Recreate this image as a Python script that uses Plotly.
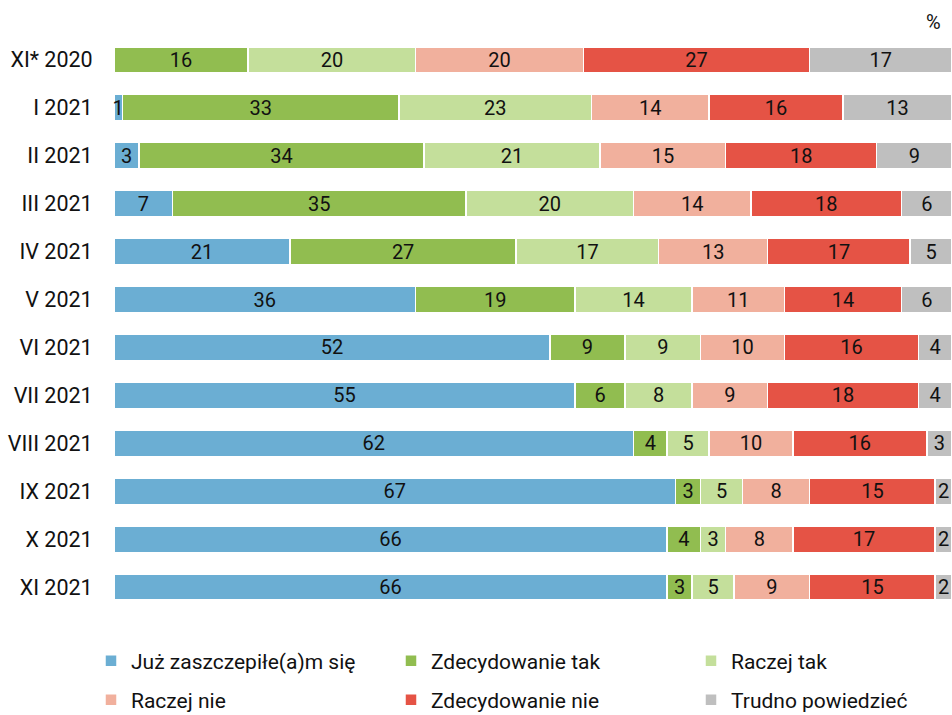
import plotly.graph_objects as go

categories = ["XI* 2020", "I 2021", "II 2021", "III 2021", "IV 2021", "V 2021",
              "VI 2021", "VII 2021", "VIII 2021", "IX 2021", "X 2021", "XI 2021"]

series_names = ["Już zaszczepiłe(a)m się", "Zdecydowanie tak", "Raczej tak",
                "Raczej nie", "Zdecydowanie nie", "Trudno powiedzieć"]

vaccinated = [None, 1, 3, 7, 21, 36, 52, 55, 62, 67, 66, 66]
definitely_yes = [16, 33, 34, 35, 27, 19, 9, 6, 4, 3, 4, 3]
rather_yes = [20, 23, 21, 20, 17, 14, 9, 8, 5, 5, 3, 5]
rather_no = [20, 14, 15, 14, 13, 11, 10, 9, 10, 8, 8, 9]
definitely_no = [27, 16, 18, 18, 17, 14, 16, 18, 16, 15, 17, 15]
hard_to_say = [17, 13, 9, 6, 5, 6, 4, 4, 3, 2, 2, 2]

colors = ["#6baed3", "#91bd50", "#c4df9b", "#f1b09d", "#e55345", "#bfbfbf"]

series = [vaccinated, definitely_yes, rather_yes, rather_no, definitely_no, hard_to_say]

FONT = "Roboto"
TXT = "#111111"

fig = go.Figure()
for i, (name, vals, col) in enumerate(zip(series_names, series, colors)):
    fig.add_trace(go.Bar(
        y=categories, x=vals, name=name, orientation="h",
        marker=dict(color=col, line=dict(color="white", width=1.5)),
        text=["" if v is None else str(v) for v in vals],
        textposition="inside", insidetextanchor="middle",
        constraintext="none", textangle=0,
        textfont=dict(family=FONT, size=20, color=TXT),
        cliponaxis=False,
        hoverinfo="skip",
        legend="legend" if i < 3 else "legend2",
    ))

PLOT_W = 952 - 114
PLOT_H = 611 - 36


def px_to_paper_x(px):
    return (px - 114) / PLOT_W


def px_to_paper_y(py):
    return (611 - py) / PLOT_H


legend_common = dict(orientation="h", xanchor="left", yanchor="middle",
                     entrywidth=255, entrywidthmode="pixels", itemwidth=30,
                     font=dict(family=FONT, size=21, color=TXT), traceorder="normal",
                     bgcolor="rgba(0,0,0,0)")

fig.update_layout(
    width=952, height=715,
    barmode="stack", bargap=0.45,
    margin=dict(l=114, r=0, t=36, b=104, autoexpand=False),
    paper_bgcolor="white", plot_bgcolor="white",
    font=dict(family=FONT, size=20, color=TXT),
    xaxis=dict(range=[0, 100], visible=False, fixedrange=True),
    yaxis=dict(autorange="reversed", showgrid=False, showline=False, automargin=False,
               ticks="outside", ticklen=16, tickcolor="rgba(0,0,0,0)",
               tickfont=dict(family=FONT, size=21.5, color=TXT)),
    legend=dict(x=px_to_paper_x(91), y=px_to_paper_y(661), **legend_common),
    legend2=dict(x=px_to_paper_x(91), y=px_to_paper_y(700), **legend_common),
    annotations=[dict(text="%", x=px_to_paper_x(943), xref="paper", xanchor="right",
                      y=px_to_paper_y(22), yref="paper", yanchor="middle",
                      showarrow=False, font=dict(family=FONT, size=20, color=TXT))],
)

fig.write_html("out.html", config={"displayModeBar": False},
               post_script="document.body.style.margin='0px';document.body.style.padding='0px';")
